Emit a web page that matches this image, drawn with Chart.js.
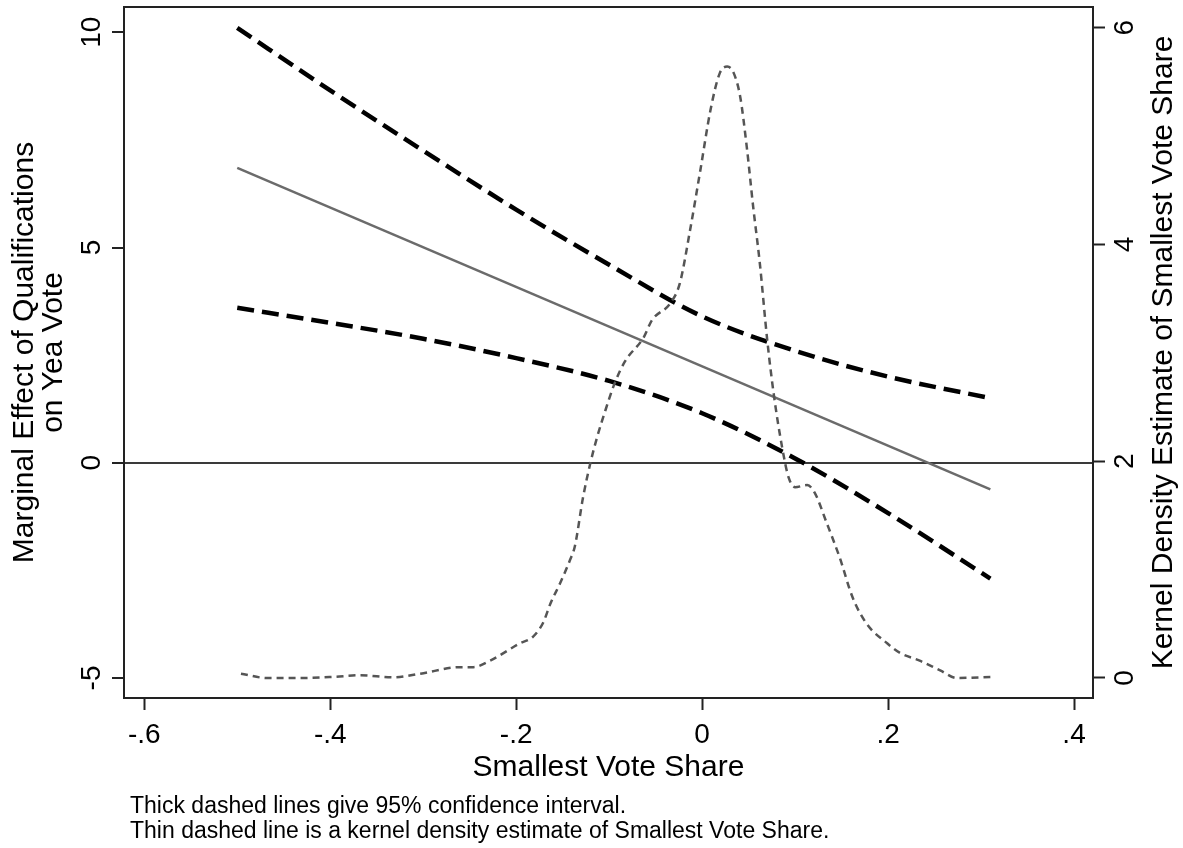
<!DOCTYPE html>
<html>
<head>
<meta charset="utf-8">
<script src="https://cdn.jsdelivr.net/npm/chart.js@4"></script>
<style>
  html, body { margin: 0; padding: 0; background: #fff; }
  #wrap { width: 1183px; height: 848px; position: relative; }
</style>
</head>
<body>
<div id="wrap"><canvas id="chart"></canvas></div>
<script>
'use strict';

// Tick values
const xTicks = [-0.6, -0.4, -0.2, 0, 0.2, 0.4];
const leftTicks = [-5, 0, 5, 10];
const rightTicks = [0, 2, 4, 6];

// Marginal effect and 95% CI
const ciX = [-0.5, -0.4, -0.3, -0.2, -0.1, 0, 0.1, 0.2, 0.31];
const ciUpper = [10.1, 8.65, 7.25, 5.88, 4.6, 3.4, 2.6, 2.0, 1.5];
const ciLower = [3.6, 3.25, 2.88, 2.43, 1.9, 1.15, 0.1, -1.17, -2.69];
const estX = [-0.5, 0.31];
const estY = [6.85, -0.62];

// Kernel density of smallest vote share (right axis)
const kdeX = [-0.496, -0.468, -0.432, -0.397, -0.368, -0.332, -0.303, -0.26, -0.246, -0.228,
  -0.196, -0.182, -0.171, -0.163, -0.153, -0.142, -0.137, -0.128, -0.12, -0.113,
  -0.104, -0.094, -0.083, -0.063, -0.054, -0.034, -0.024, -0.013, -0.002, 0.009,
  0.019, 0.027, 0.034, 0.041, 0.048, 0.055, 0.062, 0.07, 0.077, 0.086,
  0.093, 0.1, 0.113, 0.121, 0.134, 0.148, 0.162, 0.177, 0.199, 0.213,
  0.234, 0.256, 0.274, 0.31];
const kdeY = [0.04, 0.0, 0.0, 0.01, 0.025, 0.006, 0.04, 0.1, 0.1, 0.16,
  0.32, 0.38, 0.51, 0.69, 0.87, 1.09, 1.21, 1.67, 1.99, 2.22,
  2.47, 2.72, 2.92, 3.14, 3.3, 3.46, 3.64, 4.13, 4.68, 5.24,
  5.58, 5.64, 5.58, 5.36, 4.9, 4.34, 3.83, 3.12, 2.62, 2.13,
  1.85, 1.76, 1.78, 1.71, 1.43, 1.11, 0.74, 0.5, 0.32, 0.23,
  0.16, 0.07, 0.0, 0.01];

const FONT = '"Liberation Sans", Arial, Helvetica, sans-serif';
const pts = (xs, ys) => xs.map((x, i) => ({ x: x, y: ys[i] }));

// Text drawn by hand: rotated tick labels, titles, notes
const textPlugin = {
    id: 'stataText',
    afterDraw(chart) {
        const ctx = chart.ctx;
        const a = chart.chartArea;
        const sx = chart.scales.x, sy = chart.scales.y, sy2 = chart.scales.y2;
        ctx.save();
        ctx.fillStyle = '#000';

        // frame
        ctx.strokeStyle = '#222';
        ctx.lineWidth = 2;
        ctx.strokeRect(a.left, a.top, a.right - a.left, a.bottom - a.top);

        // x tick labels
        ctx.font = '28px ' + FONT;
        ctx.textAlign = 'center';
        ctx.textBaseline = 'alphabetic';
        xTicks.forEach(v => {
            const lbl = v === 0 ? '0' : (v < 0 ? '-' : '') + String(Math.abs(v)).replace(/^0/, '');
            ctx.fillText(lbl, sx.getPixelForValue(v), 743);
        });

        // x title
        ctx.font = '30px ' + FONT;
        ctx.fillText('Smallest Vote Share', (a.left + a.right) / 2, 776);

        // rotated text helper
        const vText = (txt, x, y, size) => {
            ctx.save();
            ctx.translate(x, y);
            ctx.rotate(-Math.PI / 2);
            ctx.font = size + 'px ' + FONT;
            ctx.textAlign = 'center';
            ctx.textBaseline = 'alphabetic';
            ctx.fillText(txt, 0, 0);
            ctx.restore();
        };

        leftTicks.forEach(v => vText(String(v), 100, sy.getPixelForValue(v), 28));
        rightTicks.forEach(v => vText(String(v), 1133, sy2.getPixelForValue(v), 28));

        const cy = (a.top + a.bottom) / 2;
        vText('Marginal Effect of Qualifications', 33, cy, 30);
        vText('on Yea Vote', 62, cy, 30);
        vText('Kernel Density Estimate of Smallest Vote Share', 1172, cy, 30);

        // notes
        ctx.font = '23px ' + FONT;
        ctx.textAlign = 'left';
        ctx.fillText('Thick dashed lines give 95% confidence interval.', 130, 813);
        ctx.fillText('Thin dashed line is a kernel density estimate of Smallest Vote Share.', 130, 838);
        ctx.restore();
    }
};

const tickMarks = { drawOnChartArea: false, drawTicks: true, tickLength: 12, tickColor: '#222', tickWidth: 2 };

new Chart(document.getElementById('chart'), {
    type: 'line',
    data: {
        datasets: [
            {
                label: 'Kernel density',
                data: pts(kdeX, kdeY),
                yAxisID: 'y2',
                borderColor: '#555',
                borderWidth: 2.5,
                borderDash: [7, 5],
                cubicInterpolationMode: 'monotone',
                pointRadius: 0
            },
            {
                label: 'Upper 95% CI',
                data: pts(ciX, ciUpper),
                yAxisID: 'y',
                borderColor: '#000',
                borderWidth: 4.5,
                borderDash: [17, 8],
                cubicInterpolationMode: 'monotone',
                pointRadius: 0
            },
            {
                label: 'Lower 95% CI',
                data: pts(ciX, ciLower),
                yAxisID: 'y',
                borderColor: '#000',
                borderWidth: 4.5,
                borderDash: [17, 8],
                cubicInterpolationMode: 'monotone',
                pointRadius: 0
            },
            {
                label: 'Marginal effect',
                data: pts(estX, estY),
                yAxisID: 'y',
                borderColor: '#6b6b6b',
                borderWidth: 2.5,
                pointRadius: 0
            }
        ]
    },
    options: {
        responsive: true,
        maintainAspectRatio: false,
        animation: false,
        layout: { padding: { left: 124, right: 90, top: 7, bottom: 150 } },
        plugins: { legend: { display: false }, tooltip: { enabled: false } },
        scales: {
            x: {
                type: 'linear',
                min: -0.6218,
                max: 0.4204,
                afterFit: s => { s.height = 0; },
                afterBuildTicks: s => { s.ticks = xTicks.map(v => ({ value: v })); },
                ticks: { display: false },
                grid: tickMarks,
                border: { display: false }
            },
            y: {
                position: 'left',
                min: -5.465,
                max: 10.587,
                afterFit: s => { s.width = 0; },
                afterBuildTicks: s => { s.ticks = leftTicks.map(v => ({ value: v })); },
                ticks: { display: false },
                grid: {
                    drawOnChartArea: true,
                    drawTicks: true,
                    tickLength: 12,
                    tickColor: '#222',
                    tickWidth: 2,
                    lineWidth: 2,
                    color: c => (c.tick && c.tick.value === 0) ? '#3a3a3a' : 'rgba(0,0,0,0)'
                },
                border: { display: false }
            },
            y2: {
                position: 'right',
                min: -0.1846,
                max: 6.19,
                afterFit: s => { s.width = 0; },
                afterBuildTicks: s => { s.ticks = rightTicks.map(v => ({ value: v })); },
                ticks: { display: false },
                grid: tickMarks,
                border: { display: false }
            }
        }
    },
    plugins: [textPlugin]
});
</script>
</body>
</html>
